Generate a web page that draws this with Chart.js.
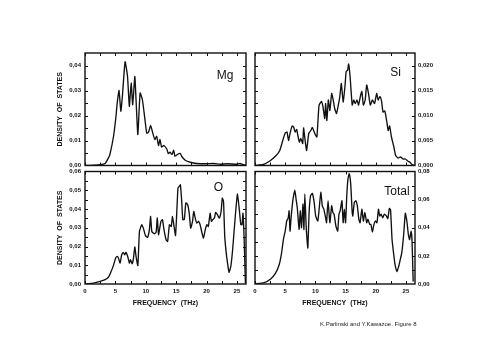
<!DOCTYPE html>
<html>
<head>
<meta charset="utf-8">
<script src="https://cdn.jsdelivr.net/npm/chart.js"></script>
<style>
body{margin:0;background:#fff;}
#wrap{position:relative;width:477px;height:351px;}
canvas{position:absolute;left:0;top:0;}
#note{position:absolute;left:320px;top:321px;font:6px "Liberation Sans",Arial,sans-serif;color:#222;white-space:nowrap;}
</style>
</head>
<body>
<div id="wrap">
<canvas id="mg" width="477" height="351"></canvas>
<canvas id="si" width="477" height="351"></canvas>
<canvas id="ox" width="477" height="351"></canvas>
<canvas id="tot" width="477" height="351"></canvas>
<div id="note">K.Parlinski and Y.Kawazoe. Figure 8</div>
</div>
<script>
// frequency ticks (THz)
var freqTicks = [0, 5, 10, 15, 20, 25];
var freqMinor = [0, 2.5, 5, 7.5, 10, 12.5, 15, 17.5, 20, 22.5, 25];

// Mg partial DOS
var mgFreq = [0,1.5,2.5,3.3,3.85,4.1,4.7,5.1,5.3,5.6,5.9,6.15,6.6,7.0,7.3,7.6,7.85,8.2,8.4,8.7,9.07,9.45,9.9,10.16,10.45,10.8,11.15,11.5,11.8,12.1,12.35,12.6,13.0,13.5,13.7,14.0,14.3,14.6,14.8,15.2,15.7,15.9,16.5,17.3,18.4,20,21.2,22.3,23.4,25,25.5,26.1,26.5];
var mgDos = [0,0.0001,0.0003,0.0008,0.003,0.0044,0.0117,0.0197,0.025,0.030,0.0217,0.0276,0.0415,0.0356,0.0237,0.033,0.0243,0.0356,0.0263,0.0124,0.029,0.0263,0.0177,0.013,0.0133,0.016,0.013,0.0104,0.0117,0.008,0.0104,0.0074,0.008,0.0064,0.0048,0.0053,0.0044,0.0061,0.0037,0.0044,0.0048,0.0037,0.0021,0.0013,0.0008,0.0007,0.0008,0.0005,0.0007,0.0005,0.0008,0.0003,0.0001];
var mgTicks = [0, 0.01, 0.02, 0.03, 0.04];

// Si partial DOS
var siFreq = [0,1.36,2.45,3.5,4.1,4.6,5.0,5.3,5.55,5.8,6.15,6.4,6.65,6.9,7.1,7.35,7.6,7.9,8.05,8.3,8.55,8.9,9.25,9.5,9.9,10.25,10.6,11.0,11.25,11.55,11.7,11.9,12.15,12.4,12.7,12.95,13.2,13.5,13.8,14.05,14.3,14.6,14.9,15.1,15.35,15.5,15.75,16.1,16.35,16.6,16.9,17.15,17.5,17.7,17.95,18.25,18.5,18.8,19.1,19.45,19.8,20.15,20.4,20.7,20.97,21.2,21.5,21.8,22.06,22.3,22.6,23.0,23.3,23.7,24.1,24.5,24.9,25.3,25.7,26.0,26.5];
var siDos = [0,0.0002,0.0009,0.002,0.003,0.005,0.0065,0.0067,0.005,0.0064,0.0079,0.0077,0.0067,0.0072,0.006,0.0047,0.0054,0.0044,0.0075,0.005,0.003,0.0064,0.007,0.0076,0.0064,0.0057,0.012,0.0128,0.0118,0.0094,0.0124,0.009,0.0131,0.011,0.0144,0.0131,0.0114,0.0104,0.0121,0.0138,0.0164,0.0127,0.0158,0.0188,0.0191,0.0203,0.0178,0.0121,0.0131,0.0124,0.0131,0.0121,0.0141,0.0148,0.0121,0.0131,0.0161,0.0144,0.0121,0.0131,0.0124,0.0144,0.0131,0.0138,0.0128,0.0107,0.0109,0.009,0.007,0.0079,0.0057,0.0037,0.002,0.0015,0.0017,0.0013,0.0013,0.0009,0.0006,0.0002,0];
var siTicks = [0, 0.005, 0.010, 0.015, 0.020];

// O partial DOS
var oFreq = [0,1.37,2.5,3.3,3.85,4.2,4.67,5.05,5.3,5.5,5.77,6.04,6.3,6.55,6.75,7.03,7.3,7.5,7.75,7.95,8.2,8.4,8.7,8.96,9.34,9.6,9.95,10.3,10.6,10.8,11.0,11.4,11.7,11.9,12.1,12.5,12.75,13.0,13.35,13.6,13.9,14.2,14.4,14.7,14.9,15.1,15.3,15.5,15.7,15.9,16.1,16.35,16.6,16.9,17.15,17.4,17.7,17.9,18.2,18.4,18.7,18.95,19.2,19.5,19.8,20.05,20.3,20.6,20.8,21.0,21.3,21.5,21.8,22.1,22.4,22.6,22.8,23.0,23.25,23.5,23.7,24.0,24.3,24.6,24.85,25.1,25.4,25.65,25.85,26.0,26.2,26.4];
var oDos = [0,0.0005,0.0014,0.0023,0.0036,0.0059,0.0098,0.0139,0.0147,0.0139,0.0112,0.0156,0.0169,0.0156,0.0169,0.0147,0.0112,0.013,0.0108,0.013,0.0197,0.0147,0.0098,0.028,0.0316,0.0298,0.0258,0.0249,0.029,0.036,0.028,0.0268,0.0275,0.0352,0.0263,0.0334,0.0343,0.029,0.0236,0.0227,0.0316,0.0307,0.036,0.0298,0.0258,0.0378,0.0512,0.052,0.0529,0.045,0.0343,0.0345,0.0432,0.0423,0.0378,0.0298,0.0334,0.0387,0.0343,0.0325,0.0334,0.0316,0.028,0.0245,0.029,0.0316,0.0307,0.0378,0.0334,0.0343,0.0352,0.0382,0.037,0.0352,0.0387,0.0458,0.044,0.0254,0.0165,0.0103,0.0062,0.0094,0.0183,0.0307,0.0405,0.048,0.0396,0.0316,0.0316,0.0378,0.0236,0.0005];
var oTicks = [0, 0.01, 0.02, 0.03, 0.04, 0.05, 0.06];

// Total DOS
var totFreq = [0,1.5,2.6,3.4,4.0,4.4,4.7,5.0,5.25,5.5,5.65,5.8,6.0,6.3,6.6,6.8,7.0,7.3,7.5,7.7,7.95,8.1,8.25,8.5,8.75,8.96,9.2,9.5,9.8,10.05,10.4,10.65,10.9,11.15,11.4,11.7,11.85,12.1,12.4,12.7,12.9,13.1,13.4,13.7,13.9,14.1,14.4,14.6,14.8,15.0,15.2,15.4,15.6,15.85,16.1,16.2,16.45,16.7,16.95,17.2,17.4,17.7,17.95,18.2,18.5,18.7,19.0,19.2,19.45,19.7,19.95,20.2,20.45,20.65,20.9,21.15,21.4,21.75,22.0,22.25,22.45,22.7,22.95,23.2,23.5,23.8,24.05,24.3,24.6,24.9,25.15,25.4,25.6,25.85,26.0,26.2];
var totDos = [0,0.001,0.0036,0.0077,0.0137,0.022,0.0316,0.0376,0.0448,0.047,0.052,0.0376,0.0484,0.0604,0.0668,0.0604,0.0544,0.0388,0.052,0.04,0.0568,0.0388,0.064,0.0388,0.0256,0.0508,0.0628,0.0644,0.058,0.0484,0.0448,0.0544,0.0652,0.0556,0.0532,0.047,0.0436,0.0592,0.0436,0.0556,0.0508,0.0496,0.0412,0.0376,0.0496,0.052,0.0592,0.0436,0.0532,0.0436,0.0628,0.0748,0.0784,0.0712,0.0508,0.0484,0.058,0.0592,0.0556,0.046,0.0436,0.0532,0.0448,0.0508,0.0436,0.046,0.0424,0.0424,0.0369,0.0424,0.0448,0.0436,0.0532,0.0484,0.0496,0.047,0.0496,0.0484,0.0465,0.0537,0.0527,0.0316,0.022,0.0137,0.0089,0.0125,0.0172,0.022,0.034,0.0503,0.0448,0.0352,0.0316,0.0376,0.0316,0.0017];
var totTicks = [0, 0.02, 0.04, 0.06, 0.08];

Chart.defaults.font.family = '"Liberation Sans", Arial, sans-serif';
Chart.defaults.color = '#111';

// box round the plot, inward ticks on all four sides, and the panel name
var frameTicks = {
  id: 'frameTicks',
  afterDatasetsDraw: function(chart, args, opts) {
    var ctx = chart.ctx, a = chart.chartArea;
    var x = chart.scales.x, y = chart.scales.y;
    ctx.save();
    ctx.strokeStyle = '#111';
    ctx.lineWidth = 1;
    ctx.beginPath();
    freqMinor.forEach(function(v) {
      var px = Math.round(x.getPixelForValue(v)) + 0.5;
      ctx.moveTo(px, a.bottom); ctx.lineTo(px, a.bottom - 3);
      ctx.moveTo(px, a.top); ctx.lineTo(px, a.top + 3);
    });
    for (var v = opts.yStep; v < y.max - 1e-9; v += opts.yStep) {
      var py = Math.round(y.getPixelForValue(v)) + 0.5;
      ctx.moveTo(a.left, py); ctx.lineTo(a.left + 3, py);
      ctx.moveTo(a.right, py); ctx.lineTo(a.right - 3, py);
    }
    ctx.stroke();
    ctx.lineWidth = 1.4;
    ctx.strokeRect(a.left, a.top, a.right - a.left, a.bottom - a.top);
    ctx.font = '12px "Liberation Sans", Arial, sans-serif';
    ctx.fillStyle = '#111';
    ctx.textAlign = 'center';
    ctx.textBaseline = 'alphabetic';
    ctx.fillText(opts.label, opts.lx, opts.ly);
    ctx.restore();
  }
};

function panel(id, freq, dos, o) {
  var pts = freq.map(function(f, i) { return {x: f, y: dos[i]}; });
  var tickFont = {size: 6, weight: 'bold'};
  new Chart(document.getElementById(id), {
    type: 'line',
    data: {datasets: [{data: pts, borderColor: '#111', borderWidth: 1.35, pointRadius: 0, tension: 0.15, fill: false}]},
    options: {
      responsive: false,
      animation: false,
      events: [],
      layout: {padding: o.pad},
      plugins: {
        legend: {display: false},
        tooltip: {enabled: false},
        frameTicks: {yStep: o.yStep, label: o.label, lx: o.lx, ly: o.ly}
      },
      scales: {
        x: {
          type: 'linear', min: 0, max: 26.5,
          display: o.bottom,
          afterBuildTicks: function(s) { s.ticks = freqTicks.map(function(v) { return {value: v}; }); },
          afterFit: function(s) { s.height = o.bottom ? 23.2 : 0; },
          grid: {display: false, drawTicks: false},
          border: {display: false},
          ticks: {font: tickFont, padding: 3.5, maxRotation: 0, autoSkip: false},
          title: {display: true, text: 'FREQUENCY  (THz)', font: {size: 7, weight: 'bold'}, padding: 0}
        },
        y: {
          type: 'linear', min: 0, max: o.max, position: o.side,
          afterBuildTicks: function(s) { s.ticks = o.ticks.map(function(v) { return {value: v}; }); },
          afterFit: function(s) { s.width = o.side === 'left' ? 29 : 30; },
          grid: {display: false, drawTicks: false},
          border: {display: false},
          ticks: {
            font: tickFont, padding: o.side === 'left' ? 4 : 3, autoSkip: false,
            callback: function(v) { return v.toFixed(o.dec).replace('.', ','); }
          },
          title: {display: o.side === 'left', text: 'DENSITY  OF  STATES', font: {size: 7, weight: 'bold'}, padding: 0}
        }
      }
    },
    plugins: [frameTicks]
  });
}

panel('mg', mgFreq, mgDos, {pad: {left: 56, right: 231, top: 53, bottom: 185.5}, bottom: false, side: 'left', max: 0.045, ticks: mgTicks, dec: 2, yStep: 0.005, label: 'Mg', lx: 225, ly: 78.5});
panel('si', siFreq, siDos, {pad: {left: 255, right: 32, top: 53, bottom: 185.5}, bottom: false, side: 'right', max: 0.0225, ticks: siTicks, dec: 3, yStep: 0.0025, label: 'Si', lx: 395.5, ly: 76});
panel('ox', oFreq, oDos, {pad: {left: 56, right: 231, top: 171.5, bottom: 43.8}, bottom: true, side: 'left', max: 0.06, ticks: oTicks, dec: 2, yStep: 0.005, label: 'O', lx: 218.5, ly: 190.7});
panel('tot', totFreq, totDos, {pad: {left: 255, right: 32, top: 171.5, bottom: 43.8}, bottom: true, side: 'right', max: 0.08, ticks: totTicks, dec: 2, yStep: 0.01, label: 'Total', lx: 397, ly: 195});
</script>
</body>
</html>
